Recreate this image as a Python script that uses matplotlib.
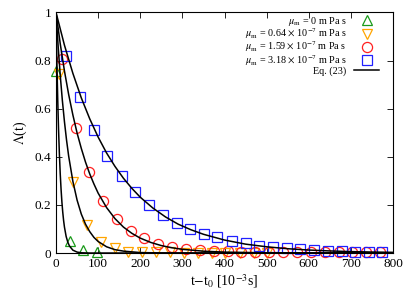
import matplotlib
matplotlib.use("Agg")
import matplotlib.pyplot as plt

# measured points
t_m0 = [0, 32, 64, 97]
lam_m0 = [0.758, 0.05, 0.011, 0.005]

t_m1 = [8, 41, 73, 106, 140, 172, 205, 238, 270, 303, 336, 370, 402, 436, 469, 502]
lam_m1 = [0.745, 0.297, 0.117, 0.047, 0.02, 0.006, 0.004, 0.003, 0.003, 0.002,
          0.002, 0.002, 0.001, 0.001, 0.001, 0.001]

t_m2 = [13.5, 47.5, 79, 112, 144, 177, 210, 243, 276, 309, 342, 374, 408, 440,
        473, 505, 539, 572, 605, 639, 671, 702, 736, 769]
lam_m2 = [0.807, 0.52, 0.335, 0.217, 0.14, 0.093, 0.061, 0.038, 0.026, 0.017,
          0.012, 0.009, 0.007, 0.006, 0.005, 0.005, 0.004, 0.004, 0.004, 0.004,
          0.003, 0.003, 0.003, 0.003]

t_m3 = [24, 57, 90, 122, 156, 188, 221, 253, 287, 318, 352, 383, 417, 450, 483,
        515, 548, 580, 613, 645, 679, 710, 742, 773]
lam_m3 = [0.82, 0.647, 0.512, 0.405, 0.321, 0.253, 0.2, 0.158, 0.126, 0.101,
          0.078, 0.065, 0.051, 0.04, 0.03, 0.024, 0.022, 0.017, 0.0125, 0.008,
          0.008, 0.006, 0.003, 0.003]

# Eq. (23) curves
t_c0 = [0, 1, 2, 3, 4, 5, 6, 8, 10, 12, 14, 16, 18, 20, 24, 28, 32, 40, 50, 60, 80, 800]
lam_c0 = [1, 0.895, 0.801, 0.717, 0.641, 0.574, 0.513, 0.411, 0.329, 0.264, 0.211,
          0.169, 0.135, 0.108, 0.069, 0.045, 0.029, 0.012, 0.004, 0.001, 0.0001, 0]

t_c1 = [0, 5, 10, 15, 20, 25, 30, 40, 50, 60, 70, 80, 90, 100, 120, 140, 160, 200,
        250, 300, 800]
lam_c1 = [1, 0.86, 0.739, 0.635, 0.546, 0.469, 0.403, 0.298, 0.22, 0.162, 0.12,
          0.089, 0.065, 0.048, 0.026, 0.014, 0.008, 0.002, 0.0005, 0.0001, 0]

t_c2 = [0, 10, 20, 30, 40, 50, 60, 70, 80, 90, 100, 120, 140, 160, 180, 200, 225,
        250, 275, 300, 350, 400, 500, 600, 800]
lam_c2 = [1, 0.87, 0.757, 0.659, 0.574, 0.499, 0.435, 0.378, 0.329, 0.287, 0.249,
          0.189, 0.143, 0.108, 0.082, 0.062, 0.044, 0.031, 0.022, 0.0155, 0.0077,
          0.0039, 0.001, 0.0002, 0]

t_c3 = [0, 20, 40, 60, 80, 100, 120, 140, 160, 180, 200, 230, 260, 290, 320, 350,
        400, 450, 500, 550, 600, 650, 700, 750, 800]
lam_c3 = [1, 0.864, 0.747, 0.645, 0.558, 0.482, 0.416, 0.36, 0.311, 0.269, 0.232,
          0.187, 0.15, 0.12, 0.097, 0.078, 0.054, 0.037, 0.026, 0.018, 0.0125,
          0.0087, 0.006, 0.0042, 0.0029]

labels = [r"$\mu_{\rm m}$ = 0 m Pa s",
          r"$\mu_{\rm m}$ = 0.64 $\times$ 10$^{-7}$ m Pa s",
          r"$\mu_{\rm m}$ = 1.59 $\times$ 10$^{-7}$ m Pa s",
          r"$\mu_{\rm m}$ = 3.18 $\times$ 10$^{-7}$ m Pa s"]

plt.rcParams['font.family'] = 'Liberation Serif'
plt.rcParams['mathtext.fontset'] = 'stix'

fig = plt.figure(figsize=(4.15, 2.97), dpi=100)
ax = fig.add_axes([0.135, 0.148, 0.812, 0.81])

ms = 7.3
ax.plot(t_m0, lam_m0, '^', mfc='none', mec='#1a9a1a', ms=ms, mew=0.9, clip_on=False, label=labels[0])
ax.plot(t_m1, lam_m1, 'v', mfc='none', mec='#ffa500', ms=ms, mew=0.9, clip_on=False, label=labels[1])
ax.plot(t_m2, lam_m2, 'o', mfc='none', mec='#ff2020', ms=ms, mew=0.9, clip_on=False, label=labels[2])
ax.plot(t_m3, lam_m3, 's', mfc='none', mec='#2020ff', ms=ms, mew=0.9, clip_on=False, label=labels[3])

for tc, lc in [(t_c0, lam_c0), (t_c1, lam_c1), (t_c2, lam_c2), (t_c3, lam_c3)]:
    ax.plot(tc, lc, '-', color='black', lw=1.1)
ax.plot([], [], '-', color='black', lw=1.1, label='Eq. (23)')

ax.set_xlim(0, 800)
ax.set_ylim(0, 1)
ax.set_xticks(range(0, 801, 100))
ax.set_yticks([0, 0.2, 0.4, 0.6, 0.8, 1])
ax.set_yticklabels(['0', '0.2', '0.4', '0.6', '0.8', '1'])
ax.tick_params(direction='in', top=True, right=True, labelsize=9.5, length=4, width=0.6)
for s in ax.spines.values():
    s.set_linewidth(0.8)

ax.set_xlabel(r"t$-$t$_0$ [10$^{-3}$s]", fontsize=10, labelpad=2)
ax.set_ylabel(r"$\Lambda$(t)", fontsize=10)

leg = ax.legend(loc='upper right', markerfirst=False, frameon=False, fontsize=7.3,
                labelspacing=-0.15, handlelength=2.5, handletextpad=0.7,
                handleheight=0.5, borderaxespad=0.0, borderpad=0.2,
                bbox_to_anchor=(0.965, 1.0))
for col in leg._legend_box._children[1]._children:
    col.align = 'right'

fig.savefig('out.png', dpi=100)
